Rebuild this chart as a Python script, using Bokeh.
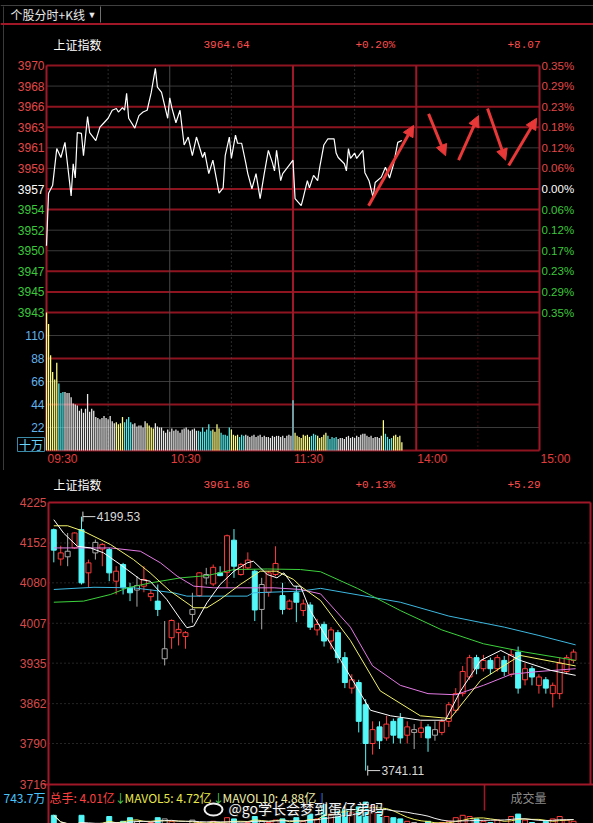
import numpy as np
import pandas as pd
from bokeh.plotting import figure
from bokeh.layouts import column
from bokeh.models import Range1d, ColumnDataSource, Arrow, NormalHead
from bokeh.core.properties import value
from bokeh.embed import file_html
from bokeh.resources import INLINE

# ======================= DATA =======================
TAB_TITLE = "个股分时+K线"
INDEX_NAME = "上证指数"
PREV_CLOSE = 3956.57
PCT_LIMIT = 0.35
TOP_LAST, TOP_PCT, TOP_CHG = "3964.64", "+0.20%", "+8.07"
TOP_PRICE_LABELS = ["3970", "3968", "3966", "3963", "3961", "3959", "3957",
                    "3954", "3952", "3950", "3947", "3945", "3943"]
TOP_PCT_LABELS = ["0.35%", "0.29%", "0.23%", "0.18%", "0.12%", "0.06%", "0.00%",
                  "0.06%", "0.12%", "0.17%", "0.23%", "0.29%", "0.35%"]
TIME_LABELS = ["09:30", "10:30", "11:30", "14:00", "15:00"]
TIME_LABEL_MIN = [0, 60, 120, 180, 240]
VOL_TICKS = [110, 88, 66, 44, 22]
VOL_TICK_LABELS = ["110", "88", "66", "44", "22"]
VOL_UNIT = "十万"

# intraday price line (minute index from 09:30, price)
LINE_MIN = [0, 1, 3, 5, 7, 9, 10, 12, 13, 14, 15, 17, 18, 20, 21, 24, 26, 28, 30, 32,
            34, 35, 37, 38, 39, 40, 43, 45, 47, 49, 51, 53, 54, 56, 59, 60, 61, 63, 65, 67,
            69, 71, 73, 76, 77, 79, 81, 84, 86, 87, 89, 90, 92, 93, 95, 97, 98, 100, 102, 104,
            106, 108, 110, 111, 112, 114, 115, 118, 120, 121, 124, 125, 127, 128, 130, 132, 133, 135, 137, 140,
            141, 142, 145, 146, 147, 148, 150, 151, 154, 155, 157, 159, 160, 163, 165, 167, 169, 171, 173]
LINE_PRICE = [3950.2, 3956.1, 3957.0, 3961.1, 3960.1, 3961.8, 3959.8, 3955.8, 3959.4, 3957.8,
              3962.9, 3962.8, 3960.3, 3964.7, 3962.9, 3962.0, 3963.5, 3964.0, 3964.5, 3965.4,
              3965.6, 3965.2, 3965.7, 3965.4, 3967.3, 3964.5, 3963.4, 3964.8, 3965.2, 3965.4,
              3967.4, 3970.1, 3968.0, 3967.4, 3964.5, 3966.8, 3965.7, 3964.0, 3965.4, 3961.5,
              3962.4, 3960.3, 3962.4, 3960.1, 3960.7, 3958.3, 3959.8, 3956.1, 3956.7, 3960.3,
              3962.4, 3960.0, 3962.6, 3961.7, 3961.7, 3959.5, 3958.3, 3956.6, 3958.3, 3955.5,
              3958.3, 3960.9, 3959.5, 3958.6, 3960.9, 3957.5, 3958.3, 3959.2, 3959.8, 3955.5,
              3954.7, 3955.6, 3957.5, 3956.7, 3958.1, 3957.5, 3959.0, 3961.5, 3962.2, 3962.2,
              3960.6, 3960.1, 3959.4, 3958.6, 3961.1, 3960.0, 3960.6, 3960.0, 3960.9, 3958.4,
              3957.5, 3955.6, 3957.3, 3957.9, 3959.0, 3957.8, 3959.4, 3961.8, 3962.0]

# per-minute volume (十万手)
VOLUME = [132, 121, 91, 75, 68, 84, 64, 55, 56, 56,
          55, 55, 51, 45, 44, 43, 38, 40, 36, 40,
          54, 37, 40, 38, 32, 31, 30, 31, 33, 31,
          30, 33, 28, 26, 27, 25, 26, 32, 27, 30,
          32, 27, 25, 26, 23, 24, 24, 22, 28, 26,
          24, 22, 21, 26, 23, 22, 22, 19, 17, 20,
          18, 21, 19, 20, 19, 17, 20, 21, 22, 20,
          19, 20, 21, 19, 19, 18, 22, 18, 20, 25,
          19, 20, 18, 25, 21, 17, 15, 15, 14, 22,
          20, 15, 14, 15, 13, 15, 14, 15, 14, 13,
          14, 15, 13, 14, 15, 13, 14, 13, 13, 12,
          14, 13, 14, 14, 13, 14, 12, 14, 15, 14,
          48, 17, 14, 13, 12, 15, 14, 15, 13, 14,
          16, 15, 14, 12, 13, 15, 17, 14, 11, 13,
          12, 13, 11, 12, 12, 11, 13, 14, 12, 13,
          12, 14, 13, 15, 16, 16, 14, 13, 14, 12,
          13, 13, 12, 14, 29, 16, 13, 11, 12, 14,
          15, 13, 14, 8]
# colour class of volume bars: (first minute, last minute, class)
VOL_CLASS_SEGS = [(0, 5, "Y"), (6, 8, "C"), (9, 33, "W"), (34, 37, "Y"), (38, 41, "C"),
                  (42, 48, "W"), (49, 52, "Y"), (53, 73, "W"), (74, 80, "C"), (81, 84, "Y"),
                  (85, 89, "C"), (90, 93, "Y"), (94, 96, "C"), (97, 119, "W"), (120, 120, "C"),
                  (121, 128, "Y"), (129, 131, "C"), (132, 136, "Y"), (137, 141, "C"),
                  (142, 163, "W"), (164, 164, "Y"), (165, 168, "C"), (169, 173, "Y")]

# hand-drawn red arrows (minute, price) -> (minute, price)
ARROW_M0 = [156.8, 186.0, 200.6, 214.7, 225.0]
ARROW_P0 = [3954.7, 3965.0, 3959.8, 3965.6, 3959.2]
ARROW_M1 = [178.7, 194.3, 210.3, 223.5, 238.6]
ARROW_P1 = [3963.7, 3960.3, 3964.8, 3959.8, 3964.5]

# ---- daily K line ----
K_LAST, K_PCT, K_CHG = "3961.86", "+0.13%", "+5.29"
K_TICKS = [4225, 4152, 4080, 4007, 3935, 3862, 3790, 3716]
K_OPEN = [4176, 4123, 4127, 4143, 4176, 4098, 4134, 4141, 4140, 4083,
          4113, 4071, 4067, 4074, 4055, 4047, 3943, 3981, 3990, 3983,
          4023, 4057, 4089, 4078, 4098, 4099, 4157, 4095, 4107, 4101,
          4032, 4063, 4095, 4057, 4033, 4062, 4030, 4040, 3995, 4005,
          3975, 3990, 3945, 3890, 3900, 3860, 3790, 3820, 3800, 3830,
          3835, 3805, 3815, 3810, 3820, 3805, 3810, 3830, 3850, 3880,
          3910, 3945, 3925, 3940, 3925, 3940, 3915, 3955, 3905, 3925,
          3895, 3905, 3880, 3880, 3920, 3940]
K_HIGH = [4178, 4147, 4170, 4171, 4199.53, 4122, 4158, 4152, 4143, 4110,
          4116, 4080, 4092, 4110, 4068, 4077, 4011, 4014, 4008, 3993,
          4062, 4099, 4107, 4113, 4110, 4167, 4177, 4116, 4135, 4104,
          4089, 4101, 4146, 4080, 4050, 4074, 4050, 4045, 4015, 4010,
          4000, 3995, 3955, 3915, 3905, 3870, 3830, 3830, 3840, 3835,
          3845, 3830, 3825, 3830, 3825, 3830, 3835, 3865, 3890, 3930,
          3950, 3950, 3950, 3945, 3950, 3948, 3960, 3965, 3935, 3930,
          3915, 3910, 3900, 3945, 3950, 3960]
K_LOW = [4117, 4111, 4110, 4141, 4077, 4071, 4122, 4110, 4083, 4059,
         4059, 4047, 4037, 4063, 4047, 4020, 3931, 3961, 3967, 3961,
         4008, 4055, 4077, 4074, 4092, 4071, 4089, 4093, 4104, 4011,
         3996, 4055, 4092, 4023, 4031, 4009, 4020, 3995, 3985, 3965,
         3960, 3935, 3890, 3880, 3810, 3741.11, 3770, 3780, 3795, 3790,
         3790, 3790, 3780, 3800, 3775, 3795, 3805, 3820, 3845, 3875,
         3905, 3915, 3920, 3915, 3920, 3912, 3910, 3880, 3895, 3895,
         3880, 3880, 3855, 3870, 3915, 3935]
K_CLOSE = [4139, 4134, 4137, 4170, 4080, 4116, 4153, 4149, 4098, 4101,
           4071, 4062, 4075, 4086, 4061, 4032, 3961, 4012, 3996, 3990,
           4032, 4098, 4095, 4108, 4093, 4165, 4110, 4113, 4121, 4031,
           4077, 4098, 4115, 4032, 4047, 4045, 4042, 4000, 4005, 3975,
           3995, 3945, 3900, 3905, 3830, 3790, 3815, 3795, 3825, 3805,
           3800, 3820, 3810, 3818, 3800, 3815, 3830, 3860, 3880, 3920,
           3945, 3925, 3940, 3925, 3945, 3920, 3950, 3890, 3925, 3910,
           3910, 3890, 3895, 3935, 3945, 3955]
K_GRAY = [2, 6, 12, 16, 20, 22, 30, 52, 55]
K_VOL = [6.1, 5.0, 5.1, 5.2, 6.1, 5.3, 5.2, 5.4, 6.0, 5.5,
         5.6, 5.9, 5.6, 5.4, 5.5, 5.9, 5.8, 5.6, 5.3, 5.4,
         5.7, 5.5, 5.4, 5.6, 5.3, 5.9, 5.8, 5.4, 5.5, 6.0,
         5.6, 5.5, 5.7, 5.8, 5.2, 5.9, 5.6, 6.2, 5.8, 7.0,
         6.2, 6.4, 6.6, 6.3, 6.8, 7.2, 6.9, 6.4, 6.0, 5.9,
         5.8, 5.6, 5.5, 5.4, 5.6, 5.3, 5.5, 5.6, 5.9, 6.1,
         6.0, 5.8, 5.6, 5.5, 5.7, 5.4, 6.0, 6.2, 5.7, 5.5,
         5.4, 5.6, 5.8, 6.0, 5.7, 5.6]
HIGH_MARK, HIGH_IDX = 4199.53, 4
LOW_MARK, LOW_IDX = 3741.11, 45

# moving averages (candle index, value)
MA5_X = [0, 1.4, 3.4, 5.3, 7.2, 9.6, 12.5, 13.9, 16.3, 18.3, 19.2, 20.2, 22.1, 24, 26, 27.9, 28.8,
         30.8, 32.2, 33.2, 34.6, 35.6, 37, 41.4, 45.7, 48.6, 52.9, 56.5, 58.7, 61.6, 64.5, 67.3, 71.7, 75.3]
MA5_Y = [4194, 4170, 4146, 4143, 4134, 4113, 4086, 4083, 4050, 4014, 3999, 4002, 4044, 4077, 4101, 4116, 4119,
         4095, 4089, 4098, 4074, 4074, 4030, 3940, 3850, 3840, 3832, 3832, 3885, 3940, 3958, 3940, 3922, 3913]
MA10_X = [0, 2, 4.3, 8.2, 11.5, 13.9, 16.8, 20.2, 22.1, 24, 26.9, 29.8, 32.2, 34.6, 35.6, 38.5, 42.8,
          47.1, 52.9, 57.2, 61.6, 67.3, 75.3]
MA10_Y = [4183, 4183, 4173, 4149, 4122, 4098, 4065, 4035, 4035, 4050, 4077, 4101, 4101, 4086, 4074, 4048, 3976,
          3885, 3840, 3835, 3904, 3949, 3930]
MA20_X = [0, 8.2, 12.5, 15.4, 17.8, 20.2, 23.1, 27, 31.8, 35.6, 38.5, 42.8, 46, 50, 54, 58, 62, 66, 70, 75.3]
MA20_Y = [4143, 4143, 4137, 4116, 4092, 4074, 4071, 4071, 4071, 4068, 4060, 4000, 3930, 3895, 3880, 3878,
          3895, 3915, 3920, 3925]
MA30_X = [0, 4.3, 8.2, 10.6, 14, 18.3, 22.1, 26, 30.8, 35.6, 38.5, 43.8, 50, 56, 62, 68, 75.3]
MA30_Y = [4045, 4047, 4059, 4071, 4080, 4089, 4093, 4104, 4105, 4104, 4100, 4070, 4030, 3995, 3970, 3955, 3940]
MA60_X = [0, 5.8, 11.5, 17.3, 19.2, 27.9, 28.8, 35.6, 38.5, 50, 57, 65, 70, 75.3]
MA60_Y = [4068, 4072, 4071, 4062, 4056, 4056, 4062, 4065, 4070, 4045, 4020, 4000, 3985, 3968]

VOL_LEFT_LABEL = "743.7万"
LEGEND_TEXTS = ["总手: 4.01亿", "↓", "MAVOL5: 4.72亿", "↓", "MAVOL10: 4.88亿", "|"]
WATERMARK = "@go学长会梦到蛋仔弟吗"
PANEL_NAME = "成交量"

# ======================= STYLE =======================
CJK = value("Noto Sans CJK SC")
SANS = value("Liberation Sans")
MONO = value("Liberation Mono")
RED_TXT = "#e04848"
GREEN_TXT = "#3cc83c"
GRID_RED = "#8e1420"
GRID_GRAY = "#3a3a3a"
FRAME_RED = "#a01828"
CYAN = "#54f8f8"
UP_RED = "#ff3c3c"

W, H1, H2 = 593, 470, 353


def base_fig(h, xr, yr):
    p = figure(width=W, height=h, x_range=xr, y_range=yr, output_backend="svg",
               toolbar_location=None, min_border=0, x_axis_type=None, y_axis_type=None,
               background_fill_color="black", border_fill_color="black",
               outline_line_color=None)
    p.title.visible = False
    p.grid.visible = False
    return p


# ======================= INTRADAY FIGURE =======================
K1 = 493 / 240.0
P_TOP = PREV_CLOSE * (1 + PCT_LIMIT / 100)
P_BOT = PREV_CLOSE * (1 - PCT_LIMIT / 100)
S1 = (P_TOP - P_BOT) / 247.0


def tx(px):
    return (px - 46) / K1


def ty(py):
    return P_TOP - (py - 65) * S1


def tv(py):
    return (450 - py) * 22 / 23.0


p1 = base_fig(H1, Range1d(tx(0), tx(W)), Range1d(ty(H1), ty(0)))
p1.extra_x_ranges = {"px": Range1d(0, W)}
p1.extra_y_ranges = {"py": Range1d(H1, 0), "vol": Range1d(tv(H1), tv(0))}

# chrome
p1.segment(x0=[0, 100, 3], y0=[5, 6, 6], x1=[W, 100, 3], y1=[5, 22, H1],
           line_color=["#404040", "#707070", "#3a3a3a"], line_width=1,
           x_range_name="px", y_range_name="py")
p1.segment(x0=[0], y0=[23.5], x1=[W], y1=[23.5], line_color=FRAME_RED, line_width=2,
           x_range_name="px", y_range_name="py")
p1.text(x=[10], y=[14], text=[TAB_TITLE], text_color="#e8e8e8", text_font=CJK,
        text_font_size=value("12px"), text_baseline="middle",
        x_range_name="px", y_range_name="py")
p1.text(x=[87], y=[14], text=["▼"], text_color="#e8e8e8", text_font=SANS,
        text_font_size=value("9px"), text_baseline="middle",
        x_range_name="px", y_range_name="py")

# header
p1.text(x=[53], y=[44], text=[INDEX_NAME], text_color="white", text_font=CJK,
        text_font_size=value("12px"), text_baseline="middle",
        x_range_name="px", y_range_name="py")
p1.text(x=[203, 355, 507], y=[44, 44, 44], text=[TOP_LAST, TOP_PCT, TOP_CHG],
        text_color="#ff4e4e", text_font=MONO, text_font_size=value("11px"),
        text_baseline="middle", x_range_name="px", y_range_name="py")

# horizontal levels
levels = [P_TOP - k * (P_TOP - P_BOT) / 12 for k in range(13)]
lvl_style = "RGRRGGRRGGRRR"
red_lv = [lv for lv, s in zip(levels, lvl_style) if s == "R"]
gray_lv = [lv for lv, s in zip(levels, lvl_style) if s == "G"]
p1.segment(x0=0, y0=gray_lv, x1=240, y1=gray_lv, line_color=GRID_GRAY, line_width=1)
p1.segment(x0=0, y0=red_lv, x1=240, y1=red_lv, line_color=GRID_RED, line_width=2)

vol_red = [VOL_TICKS[1], VOL_TICKS[3], 0]
vol_gray = [VOL_TICKS[0], VOL_TICKS[2], VOL_TICKS[4]]
p1.segment(x0=0, y0=vol_gray, x1=240, y1=vol_gray, line_color=GRID_GRAY, line_width=1,
           y_range_name="vol")
p1.segment(x0=0, y0=vol_red, x1=240, y1=vol_red, line_color=GRID_RED, line_width=2,
           y_range_name="vol")

# vertical lines
y_top, y_bot = ty(65), ty(450)
p1.segment(x0=[60], y0=y_top, x1=[60], y1=y_bot, line_color="#4a4a4a", line_width=1)
p1.segment(x0=[30, 90, 150], y0=y_top, x1=[30, 90, 150], y1=y_bot,
           line_color="#555555", line_width=1, line_dash="1 3")
p1.segment(x0=[210], y0=y_top, x1=[210], y1=y_bot, line_color="#7a1a20", line_width=1,
           line_dash="1 3")
p1.segment(x0=[0, 120, 180, 240], y0=y_top, x1=[0, 120, 180, 240], y1=y_bot,
           line_color=FRAME_RED, line_width=2)

# axis labels
lbl_colors = [RED_TXT] * 6 + ["#ffffff"] + [GREEN_TXT] * 6
p1.text(x=[44] * 13, y=levels, text=TOP_PRICE_LABELS, text_color=lbl_colors, text_font=SANS,
        text_font_size=value("12px"), text_align="right", text_baseline="middle",
        x_range_name="px")
p1.text(x=[541] * 13, y=levels, text=TOP_PCT_LABELS, text_color=lbl_colors, text_font=SANS,
        text_font_size=value("11.5px"), text_align="left", text_baseline="middle",
        x_range_name="px")
p1.text(x=[44] * len(VOL_TICKS), y=VOL_TICKS, text=VOL_TICK_LABELS, text_color="#62b2ec",
        text_font=SANS, text_font_size=value("12px"), text_align="right",
        text_baseline="middle", x_range_name="px", y_range_name="vol")
p1.quad(left=[17], right=[44], top=[437], bottom=[451], fill_color=None,
        line_color="#3a8aa8", line_width=1, x_range_name="px", y_range_name="py")
p1.text(x=[30.5], y=[444], text=[VOL_UNIT], text_color="#68d4ff", text_font=CJK,
        text_font_size=value("12px"), text_align="center", text_baseline="middle",
        x_range_name="px", y_range_name="py")
p1.text(x=TIME_LABEL_MIN, y=[458] * len(TIME_LABELS), text=TIME_LABELS, x_offset=1,
        text_color="#e03c3c", text_font=SANS, text_font_size=value("12px"),
        text_align="left", text_baseline="middle", y_range_name="py")

# volume bars
cls_color = {"Y": "#ffff88", "C": "#56e8e8", "W": "#e8e8e8"}
vcol = ["#e8e8e8"] * len(VOLUME)
for a, b, c in VOL_CLASS_SEGS:
    for m in range(a, min(b, len(VOLUME) - 1) + 1):
        vcol[m] = cls_color[c]
p1.vbar(x=list(range(len(VOLUME))), top=VOLUME, bottom=0, width=0.62, fill_color=vcol,
        line_color=None, y_range_name="vol")

# price line
p1.line(LINE_MIN, LINE_PRICE, line_color="white", line_width=1.2)

# arrows
asrc = ColumnDataSource(dict(x0=ARROW_M0, y0=ARROW_P0, x1=ARROW_M1, y1=ARROW_P1))
p1.add_layout(Arrow(end=NormalHead(size=11, fill_color="#e83838", line_color="#e83838"),
                    x_start="x0", y_start="y0", x_end="x1", y_end="y1", source=asrc,
                    line_color="#e83838", line_width=3))

# ======================= K-LINE FIGURE =======================
K2, X0 = 6.93, 53.3
S2 = (4225 - 3716) / 282.0


def kx(px):
    return (px - X0) / K2


def ky(pya):  # absolute page y
    return 4225 - (pya - 502) * S2


def kv(pya):
    return (888 - pya) / 12.0


p2 = base_fig(H2, Range1d(kx(0), kx(W)), Range1d(ky(470 + H2), ky(470)))
p2.extra_x_ranges = {"px": Range1d(0, W)}
p2.extra_y_ranges = {"py": Range1d(470 + H2, 470), "kvol": Range1d(kv(470 + H2), kv(470))}

# header
p2.text(x=[53], y=[484], text=[INDEX_NAME], text_color="white", text_font=CJK,
        text_font_size=value("12px"), text_baseline="middle",
        x_range_name="px", y_range_name="py")
p2.text(x=[203, 355, 507], y=[484, 484, 484], text=[K_LAST, K_PCT, K_CHG],
        text_color="#ff4e4e", text_font=MONO, text_font_size=value("11px"),
        text_baseline="middle", x_range_name="px", y_range_name="py")

# grid
grid_lv = K_TICKS[1:-1]
p2.segment(x0=kx(48), y0=grid_lv, x1=kx(590), y1=grid_lv, line_color="#4a4a4a",
           line_width=1, line_dash="1 3")
# frame
p2.segment(x0=[48, 590, 43, 48, 484], y0=[502, 502, 784, 502, 784],
           x1=[590, 590, W, 48, 484], y1=[502, 784, 784, 470 + H2, 810],
           line_color=FRAME_RED, line_width=[2, 2, 2, 2, 1.5],
           x_range_name="px", y_range_name="py")
# y labels
p2.text(x=[46] * len(K_TICKS), y=K_TICKS, text=[str(t) for t in K_TICKS],
        text_color="#d84a4a", text_font=SANS, text_font_size=value("12px"),
        text_align="right", text_baseline="middle", x_range_name="px")

# candles
n = len(K_OPEN)
idx = list(range(n))
ccol, cfill = [], []
for i in idx:
    if i in K_GRAY:
        ccol.append("#a8a8a8"); cfill.append("black")
    elif K_CLOSE[i] >= K_OPEN[i]:
        ccol.append(UP_RED); cfill.append("black")
    else:
        ccol.append(CYAN); cfill.append(CYAN)
ksrc = ColumnDataSource(dict(x=idx, o=K_OPEN, h=K_HIGH, l=K_LOW, c=K_CLOSE,
                             top=[max(a, b) for a, b in zip(K_OPEN, K_CLOSE)],
                             bot=[min(a, b) for a, b in zip(K_OPEN, K_CLOSE)],
                             col=ccol, fill=cfill, vol=K_VOL))

# volume strip
mv5 = pd.Series(K_VOL).rolling(5, min_periods=1).mean().tolist()
mv10 = pd.Series(K_VOL).rolling(10, min_periods=1).mean().tolist()
p2.vbar(x="x", top="vol", bottom=0, width=0.72, fill_color="fill", line_color="col",
        source=ksrc, y_range_name="kvol")
p2.line(idx, mv5, line_color="#f0f060", line_width=1, y_range_name="kvol")
p2.line(idx, mv10, line_color="#f0f0f0", line_width=1, y_range_name="kvol")

p2.segment(x0="x", y0="l", x1="x", y1="h", line_color="col", line_width=1, source=ksrc)
p2.vbar(x="x", top="top", bottom="bot", width=0.72, fill_color="fill", line_color="col",
        line_width=1, source=ksrc)

# moving averages
p2.line(MA60_X, MA60_Y, line_color="#3cb8e0", line_width=1)
p2.line(MA30_X, MA30_Y, line_color="#3cd23c", line_width=1)
p2.line(MA20_X, MA20_Y, line_color="#e47ae4", line_width=1)
p2.line(MA10_X, MA10_Y, line_color="#f4f46a", line_width=1)
p2.line(MA5_X, MA5_Y, line_color="#ffffff", line_width=1)

# high / low markers
p2.segment(x0=[HIGH_IDX + 0.2, LOW_IDX + 0.3], y0=[HIGH_MARK, LOW_MARK],
           x1=[HIGH_IDX + 2.0, LOW_IDX + 2.1], y1=[HIGH_MARK, LOW_MARK],
           line_color="#d8d8d8", line_width=1)
p2.segment(x0=[HIGH_IDX + 0.2, LOW_IDX + 0.3], y0=[HIGH_MARK - 9, LOW_MARK - 9],
           x1=[HIGH_IDX + 0.2, LOW_IDX + 0.3], y1=[HIGH_MARK + 9, LOW_MARK + 9],
           line_color="#d8d8d8", line_width=1)
p2.text(x=[HIGH_IDX + 2.2, LOW_IDX + 2.3], y=[HIGH_MARK, LOW_MARK],
        text=[f"{HIGH_MARK:.2f}", f"{LOW_MARK:.2f}"], text_color="#d8d8d8", text_font=SANS,
        text_font_size=value("12px"), text_baseline="middle")

# legend strip
p2.text(x=[3], y=[797], text=[VOL_LEFT_LABEL], text_color="#48c4ff", text_font=CJK,
        text_font_size=value("12px"), text_baseline="middle",
        x_range_name="px", y_range_name="py")
p2.text(x=[49, 114, 124, 212, 222, 320], y=[797] * 6, text=LEGEND_TEXTS,
        text_color=["#ff4040", "#50d050", "#e8e84a", "#50d050", "#eeeeaa", "#4080ff"],
        text_font=CJK, text_font_size=value("12px"), text_baseline="middle",
        x_range_name="px", y_range_name="py")
p2.text(x=[510], y=[797], text=[PANEL_NAME], text_color="#b0b0b0", text_font=CJK,
        text_font_size=value("12px"), text_baseline="middle", text_alpha=0.8,
        x_range_name="px", y_range_name="py")
p2.text(x=[228], y=[807], text=[WATERMARK], text_color="#222222", text_font=CJK,
        text_font_size=value("14px"), text_baseline="middle", x_offset=1, y_offset=1,
        x_range_name="px", y_range_name="py")
p2.text(x=[228], y=[807], text=[WATERMARK], text_color="#f4f4f4", text_font=CJK,
        text_font_size=value("14px"), text_baseline="middle",
        x_range_name="px", y_range_name="py")
p2.ellipse(x=[213], y=[809], width=18, height=12, fill_color=None, line_color="#eeeeee",
           line_width=2, x_range_name="px", y_range_name="py")

layout = column(p1, p2, spacing=0)
html = file_html(layout, INLINE, title="chart")
html = html.replace("</head>", "<style>html,body{margin:0;padding:0;background:#000;}</style></head>", 1)
open("out.html", "w").write(html)
